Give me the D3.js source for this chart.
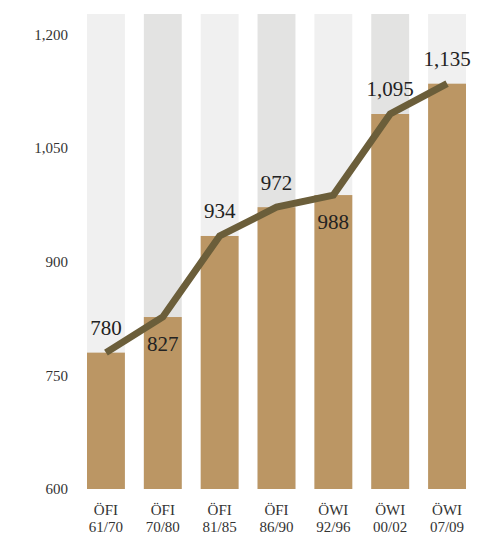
<!DOCTYPE html>
<html>
<head>
<meta charset="utf-8">
<script src="https://cdn.jsdelivr.net/npm/d3@7"></script>
<style>
  html, body { margin: 0; padding: 0; background: #fff; }
  svg { display: block; }
</style>
</head>
<body>
<svg id="chart" width="487" height="536"></svg>
<script>
const categories = ["ÖFI\n61/70", "ÖFI\n70/80", "ÖFI\n81/85", "ÖFI\n86/90", "ÖWI\n92/96", "ÖWI\n00/02", "ÖWI\n07/09"];
const values = [780, 827, 934, 972, 988, 1095, 1135];
const valueLabels = ["780", "827", "934", "972", "988", "1,095", "1,135"];
const labelAbove = [true, false, true, true, false, true, true];
const tickValues = [600, 750, 900, 1050, 1200];
const yMin = 600, yMax = 1227;

const FONT = "Liberation Serif";

const svg = d3.select("#chart");
const x = d3.scaleBand().domain(d3.range(categories.length)).range([87, 466]).paddingInner(1/3).paddingOuter(0);
const y = d3.scaleLinear().domain([yMin, yMax]).range([489, 14]);

// background bars
svg.append("g").selectAll("rect").data(values).join("rect")
  .attr("x", (d, i) => x(i)).attr("width", x.bandwidth())
  .attr("y", y(yMax)).attr("height", y(yMin) - y(yMax))
  .attr("fill", (d, i) => i % 2 === 0 ? "#f0f0f0" : "#e3e3e2");

// value bars
svg.append("g").selectAll("rect").data(values).join("rect")
  .attr("x", (d, i) => x(i)).attr("width", x.bandwidth())
  .attr("y", d => y(d)).attr("height", d => y(yMin) - y(d))
  .attr("fill", "#bb9664");

// y axis
const yAxis = d3.axisLeft(y).tickValues(tickValues).tickSize(0).tickPadding(0)
  .tickFormat(d3.format(","));
const ya = svg.append("g").attr("transform", "translate(68,0)").call(yAxis);
ya.select(".domain").remove();
ya.attr("font-family", FONT).attr("font-size", 15);
ya.selectAll("text").attr("font-family", FONT).attr("font-size", 15).attr("fill", "#333");

// line
const line = d3.line().x((d, i) => x(i) + x.bandwidth() / 2).y(d => y(d));
svg.append("path").datum(values).attr("d", line)
  .attr("fill", "none").attr("stroke", "#6b5e3a").attr("stroke-width", 7)
  .attr("stroke-linejoin", "miter").attr("stroke-linecap", "butt");

// value labels
svg.append("g").selectAll("text").data(values).join("text")
  .attr("x", (d, i) => x(i) + x.bandwidth() / 2)
  .attr("y", (d, i) => labelAbove[i] ? y(d) - 25 : y(d) + 27)
  .attr("dy", "0.35em")
  .attr("text-anchor", "middle")
  .attr("font-family", FONT).attr("font-size", 21).attr("fill", "#222")
  .text((d, i) => valueLabels[i]);

// category labels
const cat = svg.append("g").selectAll("text").data(categories).join("text")
  .attr("text-anchor", "middle")
  .attr("font-family", FONT).attr("font-size", 15).attr("fill", "#333");
cat.each(function(d, i) {
  const t = d3.select(this);
  d.split("\n").forEach((s, j) => {
    t.append("tspan").attr("x", x(i) + x.bandwidth() / 2).attr("y", 515 + j * 17).text(s);
  });
});
</script>
</body>
</html>
